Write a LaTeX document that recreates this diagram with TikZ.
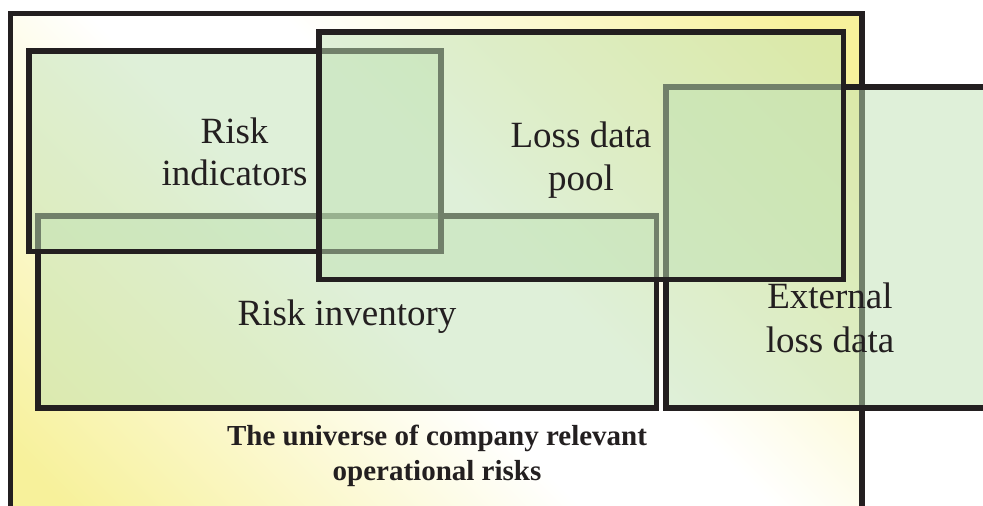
\documentclass[tikz,border=0pt]{standalone}
\usepackage{fontspec}
\setmainfont{Liberation Serif}
\definecolor{ink}{RGB}{35,31,32}
\definecolor{yel}{RGB}{247,241,155}
\definecolor{boxgreen}{RGB}{192,226,180}
\pgfdeclarehorizontalshading{yws}{100bp}{color(0bp)=(yel); color(18bp)=(yel); color(45bp)=(white); color(55bp)=(white); color(82bp)=(yel); color(100bp)=(yel)}
\tikzset{
  frame/.style={draw=ink, line width=5.5pt},
  setbox/.style={draw=ink, line width=5.5pt, fill=boxgreen, fill opacity=0.5},
  lbl/.style={text=ink, font=\fontsize{37}{43}\selectfont, inner sep=0pt, anchor=base},
  blbl/.style={text=ink, font=\bfseries\fontsize{29}{35}\selectfont, inner sep=0pt, anchor=base},
}
\begin{document}
\begin{tikzpicture}[x=1pt,y=-1pt]
\useasboundingbox (0,0) rectangle (983,506);
\clip (0,0) rectangle (983,506);
% universe
\shade[shading=yws, shading angle=45] (10.3,13.3) rectangle (862,518);
\draw[frame] (10.3,13.3) rectangle (862,518);
% sets, bottom to top
\draw[setbox] (666,87) rectangle (1000,408);
\draw[setbox] (38,216) rectangle (656.5,408);
\draw[setbox] (29,51) rectangle (441,251.5);
\draw[setbox] (319,32) rectangle (843.5,279.5);
% labels
\node[lbl] (ri1) at (234.5,143.3) {Risk};
\node[lbl] (ri2) at (234.5,185) {indicators};
\node[lbl] (ld1) at (581,147) {Loss data};
\node[lbl] (ld2) at (581,190) {pool};
\node[lbl] (inv) at (347,325) {Risk inventory};
\node[lbl] (ex1) at (830,308.3) {External};
\node[lbl] (ex2) at (830,352.7) {loss data};
\node[blbl] (u1) at (437,445) {The universe of company relevant};
\node[blbl] (u2) at (437,480) {operational risks};
\end{tikzpicture}
\end{document}
